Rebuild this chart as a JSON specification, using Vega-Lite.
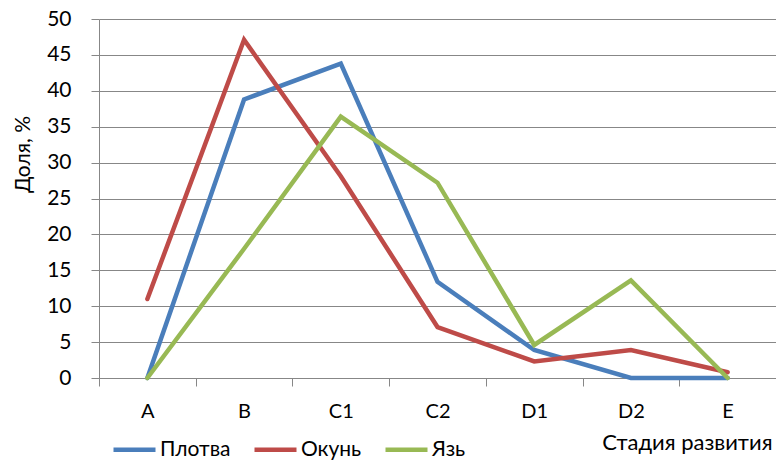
{
  "$schema": "https://vega.github.io/schema/vega-lite/v6.json",
  "autosize": {"type": "none"},
  "width": 677,
  "height": 359,
  "padding": {"left": 99, "top": 19, "right": 0, "bottom": 83},
  "background": "white",
  "config": {
    "font": "Lato",
    "view": {"stroke": null}
  },
  "data": {
    "values": [
      {"stage": "A", "species": "Плотва", "value": 0},
      {"stage": "B", "species": "Плотва", "value": 38.8},
      {"stage": "C1", "species": "Плотва", "value": 43.8},
      {"stage": "C2", "species": "Плотва", "value": 13.4},
      {"stage": "D1", "species": "Плотва", "value": 3.9},
      {"stage": "D2", "species": "Плотва", "value": 0},
      {"stage": "E", "species": "Плотва", "value": 0},
      {"stage": "A", "species": "Окунь", "value": 11.0},
      {"stage": "B", "species": "Окунь", "value": 47.1},
      {"stage": "C1", "species": "Окунь", "value": 28.1},
      {"stage": "C2", "species": "Окунь", "value": 7.1},
      {"stage": "D1", "species": "Окунь", "value": 2.3},
      {"stage": "D2", "species": "Окунь", "value": 3.9},
      {"stage": "E", "species": "Окунь", "value": 0.8},
      {"stage": "A", "species": "Язь", "value": 0},
      {"stage": "B", "species": "Язь", "value": 18.0},
      {"stage": "C1", "species": "Язь", "value": 36.4},
      {"stage": "C2", "species": "Язь", "value": 27.2},
      {"stage": "D1", "species": "Язь", "value": 4.6},
      {"stage": "D2", "species": "Язь", "value": 13.6},
      {"stage": "E", "species": "Язь", "value": 0}
    ]
  },
  "mark": {"type": "line", "strokeWidth": 4.5, "strokeCap": "round", "strokeJoin": "miter"},
  "encoding": {
    "x": {
      "field": "stage",
      "type": "ordinal",
      "sort": ["A", "B", "C1", "C2", "D1", "D2", "E"],
      "scale": {"type": "band", "paddingInner": 0, "paddingOuter": 0},
      "axis": {
        "title": "Стадия развития",
        "titleFontSize": 22,
        "titleFontWeight": "normal",
        "titleColor": "#000000",
        "titleAnchor": "end",
        "titleAlign": "right",
        "titleBaseline": "alphabetic",
        "titleX": 673,
        "titleY": 71,
        "labelAngle": 0,
        "labelFontSize": 20,
        "labelColor": "#000000",
        "labelPadding": 15,
        "tickBand": "extent",
        "tickSize": 8,
        "tickColor": "#878787",
        "domainColor": "#878787",
        "grid": false
      }
    },
    "y": {
      "field": "value",
      "type": "quantitative",
      "scale": {"domain": [0, 50], "nice": false},
      "axis": {
        "title": "Доля, %",
        "titleFontSize": 21,
        "titleFontWeight": "normal",
        "titleColor": "#000000",
        "titleX": -66,
        "titleY": 135,
        "titleAngle": -90,
        "titleAlign": "center",
        "titleBaseline": "bottom",
        "values": [0, 5, 10, 15, 20, 25, 30, 35, 40, 45, 50],
        "labelFontSize": 21,
        "labelColor": "#000000",
        "labelPadding": 20,
        "tickSize": 8,
        "tickColor": "#878787",
        "domainColor": "#878787",
        "gridColor": "#878787",
        "grid": true
      }
    },
    "color": {
      "field": "species",
      "type": "nominal",
      "sort": ["Плотва", "Окунь", "Язь"],
      "scale": {"domain": ["Плотва", "Окунь", "Язь"], "range": ["#4A7EBB", "#BE4B48", "#98B954"]},
      "legend": {
        "title": null,
        "orient": "none",
        "direction": "horizontal",
        "legendX": 12,
        "legendY": 407,
        "symbolType": "stroke",
        "symbolSize": 1764,
        "symbolStrokeWidth": 4.5,
        "labelFontSize": 21,
        "labelColor": "#000000",
        "labelOffset": 2,
        "columnPadding": 14
      }
    }
  }
}
